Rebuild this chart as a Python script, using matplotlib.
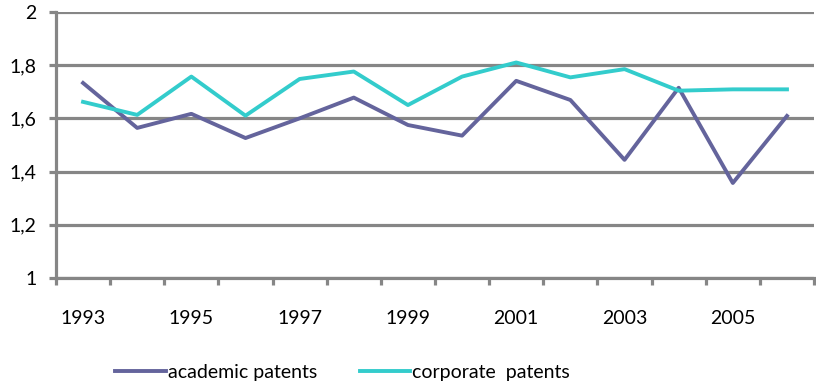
import matplotlib
matplotlib.use('Agg')
import matplotlib.pyplot as plt
from matplotlib.ticker import FixedLocator, FuncFormatter

years = list(range(1993, 2007))
academic = [1.733, 1.564, 1.617, 1.526, 1.600, 1.678, 1.575, 1.535,
            1.741, 1.669, 1.444, 1.715, 1.357, 1.609]
corporate = [1.662, 1.613, 1.757, 1.610, 1.748, 1.776, 1.650, 1.757,
             1.810, 1.754, 1.785, 1.704, 1.709, 1.709]
year_labels = ['1993', '1995', '1997', '1999', '2001', '2003', '2005']
y_ticks = [1, 1.2, 1.4, 1.6, 1.8, 2]

GRID = '#868686'
plt.rcParams['font.family'] = ['Lato', 'DejaVu Sans']

fig = plt.figure(figsize=(8.16, 3.85), dpi=100)
ax = fig.add_axes([0.0686, 0.278, 0.929, 0.691])

x = list(range(len(years)))
ax.plot(x, academic, color='#64649C', lw=2.8, label='academic patents', zorder=3)
ax.plot(x, corporate, color='#33CCCC', lw=2.8, label='corporate  patents', zorder=3)

ax.set_xlim(-0.5, len(years) - 0.5)
ax.set_ylim(1, 2)

ax.set_yticks(y_ticks)
ax.yaxis.set_major_formatter(FuncFormatter(lambda v, p: ('%g' % v).replace('.', ',')))
ax.yaxis.grid(True, color=GRID, lw=2.3)
ax.set_axisbelow(True)

# category boundaries get tick marks, every other year gets a label
ax.xaxis.set_major_locator(FixedLocator([i - 0.5 for i in range(len(years) + 1)]))
ax.xaxis.set_major_formatter(FuncFormatter(lambda v, p: ''))
ax.xaxis.set_minor_locator(FixedLocator([years.index(int(y)) for y in year_labels]))
ax.set_xticklabels(year_labels, minor=True)

ax.tick_params(axis='x', which='major', length=5, width=2.3, color=GRID, direction='out')
ax.tick_params(axis='x', which='minor', length=0, pad=23, labelsize=14)
ax.tick_params(axis='y', length=5, width=2.3, color=GRID, pad=9, labelsize=14)

for side in ['top', 'right']:
    ax.spines[side].set_visible(False)
for side in ['left', 'bottom']:
    ax.spines[side].set_color(GRID)
    ax.spines[side].set_linewidth(2.3)

fig.legend(loc='lower center', bbox_to_anchor=(0.42, -0.035), ncol=2, frameon=False,
           fontsize=14, handlelength=2.6, handletextpad=0.1, columnspacing=2.2)

fig.savefig('out.png', dpi=100)
